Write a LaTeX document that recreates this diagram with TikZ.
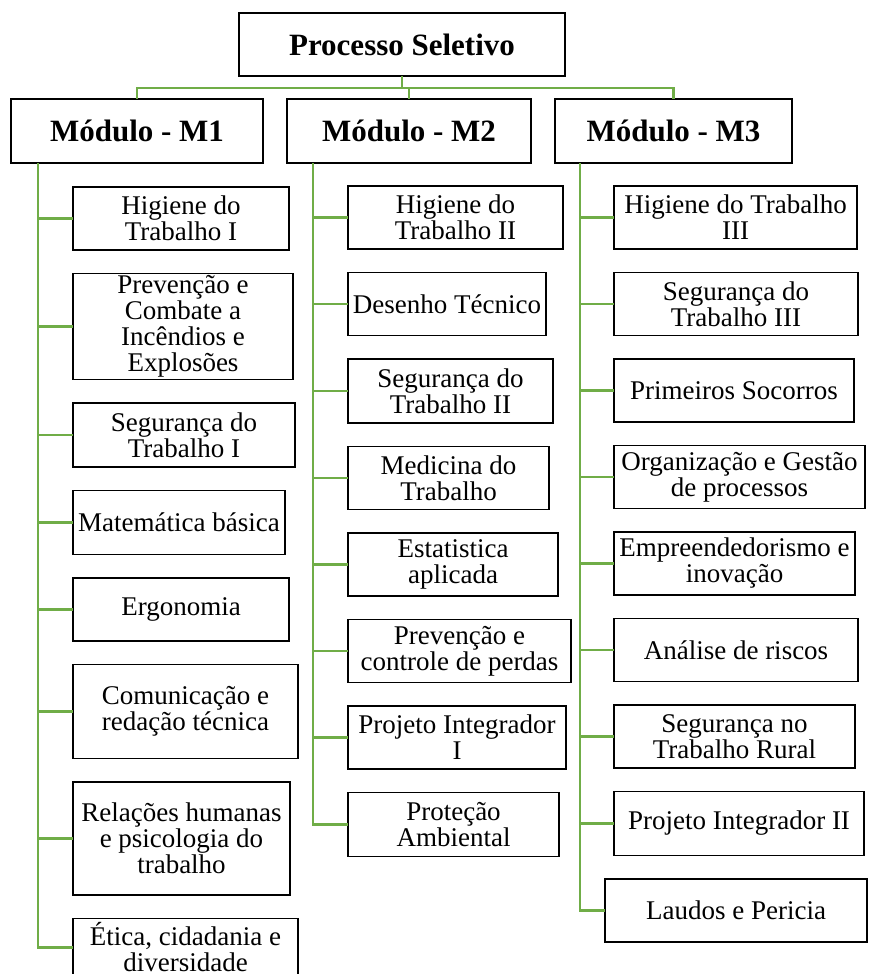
\documentclass[tikz,border=0pt]{standalone}
\usepackage{fontspec}
\setmainfont{Liberation Serif}
\usetikzlibrary{positioning}
\definecolor{ramo}{RGB}{112,173,71}
\tikzstyle{pb} = [rectangle, draw, line width=1.4pt, anchor=north west, outer sep=0pt,
    align=center, inner sep=2pt, font=\fontsize{31}{33}\selectfont\bfseries]
\tikzstyle{db} = [rectangle, draw, line width=1.4pt, anchor=north west, outer sep=0pt,
    align=center, inner sep=2pt, minimum height=63pt,
    font=\fontsize{27}{26}\selectfont]
\tikzstyle{lig} = [draw=ramo, line width=2.6pt]

\begin{document}
\begin{tikzpicture}[x=1pt,y=-1pt]
  \useasboundingbox (0,0) rectangle (868,974);

  % topo e modulos
  \node[pb, minimum width=326pt, minimum height=63pt] (ps) at (239,13) {Processo Seletivo};
  \node[pb, minimum width=252pt, minimum height=64pt] (m1) at (11,99) {Módulo - M1};
  \node[pb, minimum width=244pt, minimum height=64pt] (m2) [below right=0pt and 24pt of m1.north east] {Módulo - M2};
  \node[pb, minimum width=237pt, minimum height=64pt] (m3) [below right=0pt and 24pt of m2.north east] {Módulo - M3};

  % modulo M1
  \node[db, minimum width=216pt] (a1) at (73,187) {Higiene do\\Trabalho I};
  \node[db, minimum width=220pt, minimum height=106pt] (a2) [below right=23.5pt and 0pt of a1.south west] {Prevenção e\\Combate a\\Incêndios e\\Explosões};
  \node[db, minimum width=222pt, minimum height=64pt] (a3) [below right=23.5pt and 0pt of a2.south west] {Segurança do\\Trabalho I};
  \node[db, minimum width=212pt, minimum height=64pt] (a4) [below right=23.5pt and 0pt of a3.south west] {Matemática básica};
  \node[db, minimum width=216pt] (a5) [below right=23.5pt and 0pt of a4.south west] {Ergonomia};
  \node[db, minimum width=225pt, minimum height=94pt] (a6) [below right=23.5pt and 0pt of a5.south west] {Comunicação e\\redação técnica};
  \node[db, minimum width=217pt, minimum height=113pt] (a7) [below right=23.5pt and 0pt of a6.south west] {Relações humanas\\e psicologia do\\trabalho};
  \node[db, minimum width=225pt, minimum height=58pt] (a8) [below right=23.5pt and 0pt of a7.south west] {Ética, cidadania e\\diversidade};

  % modulo M2
  \node[db, minimum width=215pt] (b1) at (348,186) {Higiene do\\Trabalho II};
  \node[db, minimum width=198pt] (b2) [below right=23.5pt and 0pt of b1.south west] {Desenho Técnico};
  \node[db, minimum width=205pt, minimum height=64pt] (b3) [below right=23.5pt and 0pt of b2.south west] {Segurança do\\Trabalho II};
  \node[db, minimum width=201pt] (b4) [below right=23.5pt and 0pt of b3.south west] {Medicina do\\Trabalho};
  \node[db, minimum width=210pt] (b5) [below right=23.5pt and 0pt of b4.south west] {Estatistica\\aplicada};
  \node[db, minimum width=223pt] (b6) [below right=23.5pt and 0pt of b5.south west] {Prevenção e\\controle de perdas};
  \node[db, minimum width=218pt] (b7) [below right=23.5pt and 0pt of b6.south west] {Projeto Integrador\\I};
  \node[db, minimum width=211pt, minimum height=64pt] (b8) [below right=23.5pt and 0pt of b7.south west] {Proteção\\Ambiental};

  % modulo M3
  \node[db, minimum width=243pt] (c1) at (614,186) {Higiene do Trabalho\\III};
  \node[db, minimum width=244pt] (c2) [below right=23.5pt and 0pt of c1.south west] {Segurança do\\Trabalho III};
  \node[db, minimum width=240pt] (c3) [below right=23.5pt and 0pt of c2.south west] {Primeiros Socorros};
  \node[db, minimum width=251pt] (c4) [below right=23.5pt and 0pt of c3.south west] {Organização e Gestão\\de processos};
  \node[db, minimum width=241pt] (c5) [below right=23.5pt and 0pt of c4.south west] {Empreendedorismo e\\inovação};
  \node[db, minimum width=244pt] (c6) [below right=23.5pt and 0pt of c5.south west] {Análise de riscos};
  \node[db, minimum width=241pt] (c7) [below right=23.5pt and 0pt of c6.south west] {Segurança no\\Trabalho Rural};
  \node[db, minimum width=250pt, minimum height=64pt] (c8) [below right=23.5pt and 0pt of c7.south west] {Projeto Integrador II};
  \node[db, minimum width=262pt] (c9) [below right=23.5pt and -9pt of c8.south west] {Laudos e Pericia};

  % ligacoes
  \foreach \m in {m1,m2,m3}
    \path[lig] (ps.south) -- ++(0,12) -| (\m.north);
  \foreach \n in {a1,a2,a3,a4,a5,a6,a7,a8}
    \path[lig] ([xshift=27pt]m1.south west) |- (\n.west);
  \foreach \n in {b1,b2,b3,b4,b5,b6,b7,b8}
    \path[lig] ([xshift=26pt]m2.south west) |- (\n.west);
  \foreach \n in {c1,c2,c3,c4,c5,c6,c7,c8,c9}
    \path[lig] ([xshift=25pt]m3.south west) |- (\n.west);
\end{tikzpicture}
\end{document}
